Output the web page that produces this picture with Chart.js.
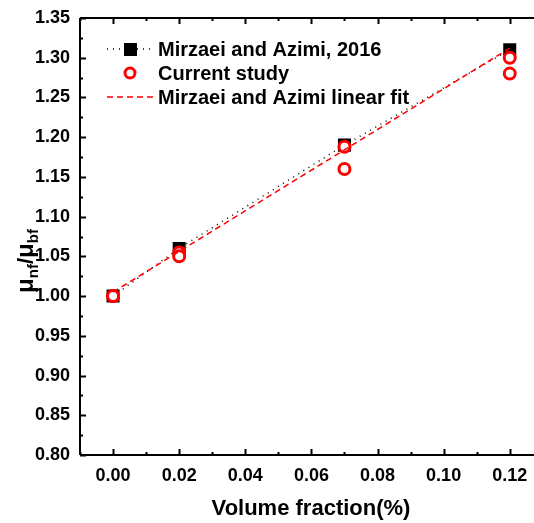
<!DOCTYPE html>
<html>
<head>
<meta charset="utf-8">
<script src="https://cdn.jsdelivr.net/npm/chart.js@4.4.0/dist/chart.umd.min.js"></script>
<style>
  html, body { margin: 0; padding: 0; background: #fff; overflow: hidden; }
  #grafica { display: block; }
</style>
</head>
<body>
<canvas id="grafica" width="552" height="523" style="width:552px;height:523px"></canvas>
<script>
// data
const fraccion = [0.00, 0.02, 0.07, 0.12];
const mirzaei = [1.00, 1.06, 1.19, 1.31];
const estudioX = [0.00, 0.00, 0.02, 0.02, 0.07, 0.07, 0.12, 0.12];
const estudioY = [1.00, 1.00, 1.055, 1.05, 1.188, 1.16, 1.30, 1.28];
const ajusteX = [0.00, 0.12];
const ajusteY = [1.005, 1.312];
const yTicks = [0.80, 0.85, 0.90, 0.95, 1.00, 1.05, 1.10, 1.15, 1.20, 1.25, 1.30, 1.35];
const xTicks = [0.00, 0.02, 0.04, 0.06, 0.08, 0.10, 0.12];

const fuente = '"Liberation Sans", Arial, sans-serif';

// ejes con marcas hacia dentro + leyenda + titulos
const ejesPlugin = {
  id: 'ejes',
  afterDraw(chart) {
    const ctx = chart.ctx;
    const a = chart.chartArea;
    const sx = chart.scales.x, sy = chart.scales.y;
    ctx.save();
    ctx.strokeStyle = '#000';
    ctx.lineWidth = 2;
    ctx.beginPath();
    ctx.moveTo(a.left, a.top); ctx.lineTo(a.right, a.top);
    ctx.moveTo(a.left, a.top); ctx.lineTo(a.left, a.bottom);
    ctx.moveTo(a.left, a.bottom); ctx.lineTo(a.right, a.bottom);
    ctx.moveTo(a.right, a.top); ctx.lineTo(a.right, a.bottom);
    ctx.stroke();
    // y ticks
    for (let v = 0.80; v <= 1.3501; v += 0.025) {
      const y = Math.round(sy.getPixelForValue(v)) + 0.5;
      const major = Math.abs(v * 20 - Math.round(v * 20)) < 1e-6;
      const len = major ? 6 : 3;
      ctx.beginPath();
      ctx.moveTo(a.left, y); ctx.lineTo(a.left + len, y);
      ctx.moveTo(a.right, y); ctx.lineTo(a.right - len, y);
      ctx.stroke();
    }
    // x ticks
    for (let v = -0.01; v <= 0.1301; v += 0.01) {
      const x = Math.round(sx.getPixelForValue(v)) + 0.5;
      const major = Math.abs(v * 50 - Math.round(v * 50)) < 1e-6;
      const len = major ? 6 : 3;
      ctx.beginPath();
      ctx.moveTo(x, a.bottom); ctx.lineTo(x, a.bottom - len);
      ctx.moveTo(x, a.top); ctx.lineTo(x, a.top + len);
      ctx.stroke();
    }
    // leyenda
    const lx0 = 107, lx1 = 153, tx = 158;
    const filas = [49, 73, 97];
    ctx.lineWidth = 1.5;
    ctx.strokeStyle = '#000';
    ctx.setLineDash([1, 5]);
    ctx.beginPath(); ctx.moveTo(lx0, filas[0]); ctx.lineTo(lx1, filas[0]); ctx.stroke();
    ctx.setLineDash([]);
    ctx.fillStyle = '#000';
    ctx.fillRect(124, filas[0] - 6, 13, 13);
    ctx.strokeStyle = '#ff0000';
    ctx.lineWidth = 3;
    ctx.beginPath(); ctx.arc(130, filas[1], 5, 0, Math.PI * 2); ctx.stroke();
    ctx.lineWidth = 1.5;
    ctx.setLineDash([6, 4]);
    ctx.beginPath(); ctx.moveTo(lx0, filas[2]); ctx.lineTo(lx1, filas[2]); ctx.stroke();
    ctx.setLineDash([]);
    ctx.fillStyle = '#000';
    ctx.font = 'bold 20px ' + fuente;
    ctx.textBaseline = 'middle';
    ctx.textAlign = 'left';
    chart.data.datasets.forEach((d, i) => ctx.fillText(d.label, tx, filas[i] + 1));
    // titulo x
    ctx.font = 'bold 22px ' + fuente;
    ctx.textAlign = 'center';
    ctx.fillText('Volume fraction(%)', 311, 509);
    // titulo y con subindices
    ctx.translate(29, 261);
    ctx.rotate(-Math.PI / 2);
    const partes = [['\u03bc', 24, 0], ['nf', 15, 5], ['/', 22, 0], ['\u03bc', 24, 0], ['bf', 15, 5]];
    let total = 0;
    partes.forEach(p => { ctx.font = 'bold ' + p[1] + 'px ' + fuente; total += ctx.measureText(p[0]).width; });
    let x = -total / 2;
    ctx.textAlign = 'left';
    ctx.textBaseline = 'alphabetic';
    partes.forEach(p => {
      ctx.font = 'bold ' + p[1] + 'px ' + fuente;
      ctx.fillText(p[0], x, p[2] + 4);
      x += ctx.measureText(p[0]).width;
    });
    ctx.restore();
  }
};

const ctx = document.getElementById('grafica').getContext('2d');
new Chart(ctx, {
  type: 'scatter',
  data: {
    datasets: [
      {
        label: 'Mirzaei and Azimi, 2016',
        data: fraccion.map((x, i) => ({ x: x, y: mirzaei[i] })),
        showLine: true,
        borderColor: '#000',
        borderWidth: 1.5,
        borderDash: [1, 5],
        pointStyle: 'rect',
        pointRadius: 9.2,
        pointBackgroundColor: '#000',
        pointBorderWidth: 0,
        order: 3
      },
      {
        label: 'Current study',
        data: estudioX.map((x, i) => ({ x: x, y: estudioY[i] })),
        showLine: false,
        pointStyle: 'circle',
        pointRadius: 5.5,
        pointBorderWidth: 3,
        pointBorderColor: '#ff0000',
        pointBackgroundColor: '#fff',
        order: 2
      },
      {
        label: 'Mirzaei and Azimi linear fit',
        data: ajusteX.map((x, i) => ({ x: x, y: ajusteY[i] })),
        showLine: true,
        borderColor: '#ff0000',
        borderWidth: 1.5,
        borderDash: [6, 4],
        pointRadius: 0,
        order: 1
      }
    ]
  },
  options: {
    responsive: false,
    animation: false,
    layout: { padding: { top: 18, right: 3, left: 0, bottom: 0 } },
    plugins: { legend: { display: false }, tooltip: { enabled: false } },
    scales: {
      x: {
        type: 'linear',
        min: -0.01,
        max: 0.13,
        grid: { display: false },
        border: { display: false },
        afterFit: s => { s.height = 68; },
        afterBuildTicks: s => { s.ticks = xTicks.map(v => ({ value: v })); },
        ticks: {
          color: '#000',
          padding: 2,
          font: { family: fuente, size: 18, weight: 'bold' },
          callback: v => v.toFixed(2)
        }
      },
      y: {
        min: 0.80,
        max: 1.35,
        grid: { display: false },
        border: { display: false },
        afterFit: s => { s.width = 80; },
        afterBuildTicks: s => { s.ticks = yTicks.map(v => ({ value: v })); },
        ticks: {
          color: '#000',
          padding: 2,
          font: { family: fuente, size: 18, weight: 'bold' },
          callback: v => v.toFixed(2)
        }
      }
    }
  },
  plugins: [ejesPlugin]
});
</script>
</body>
</html>
